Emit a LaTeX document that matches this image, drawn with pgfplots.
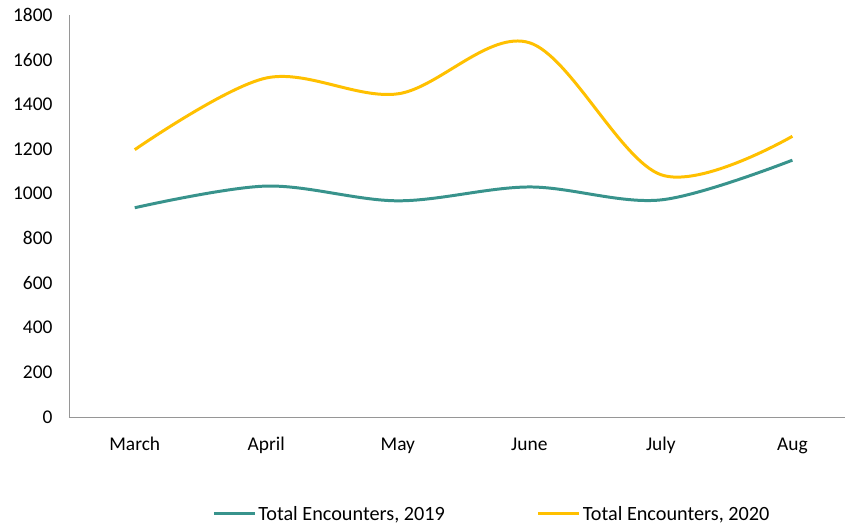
\documentclass[border=0pt]{standalone}
\usepackage{pgfplots}
\pgfplotsset{compat=1.18}
\usepackage{fontspec}
\setmainfont{Carlito}
\definecolor{teal19}{RGB}{56,147,140}
\definecolor{gold20}{RGB}{255,192,0}
\definecolor{axgray}{RGB}{150,150,150}
\begin{document}
\begin{tikzpicture}[x=1bp,y=1bp]
\useasboundingbox (-69bp,-108bp) rectangle (776bp,417bp);
\begin{axis}[
  at={(0,0)}, anchor=south west,
  scale only axis, width=776bp, height=402bp,
  xmin=-0.5, xmax=5.4, ymin=0, ymax=1800,
  axis x line*=bottom, axis y line*=left,
  axis line style={axgray, line width=1pt, -},
  xtick={0,1,2,3,4,5},
  xticklabels={March,April,May,June,July,Aug},
  ytick={0,200,...,1800},
  major tick length=0pt,
  tick style={draw=none},
  ticklabel style={font=\fontsize{19.5}{23}\selectfont, text=black},
  xticklabel style={anchor=base, yshift=-33bp},
  yticklabel style={xshift=-13bp},
  /pgf/number format/assume math mode=true,
  /pgf/number format/1000 sep={},
  legend columns=2,
  legend style={at={(0.545,-0.241)}, anchor=center, draw=none, fill=none,
    font=\fontsize{20.3}{24}\selectfont,
    /tikz/every even column/.append style={column sep=90bp}},
  legend image code/.code={\draw[#1, line width=3pt] (0bp,0bp) -- (41bp,0bp);},
]
\addplot[teal19, line width=3pt, smooth, tension=0.55] coordinates {
 (0,937) (1,1034) (2,968) (3,1030) (4,972) (5,1150)};
\addlegendentry{Total Encounters, 2019}
\addplot[gold20, line width=3pt, smooth, tension=0.55] coordinates {
 (0,1197) (1,1518) (2,1447) (3,1676) (4,1085) (5,1257)};
\addlegendentry{Total Encounters, 2020}
\end{axis}
\end{tikzpicture}
\end{document}
